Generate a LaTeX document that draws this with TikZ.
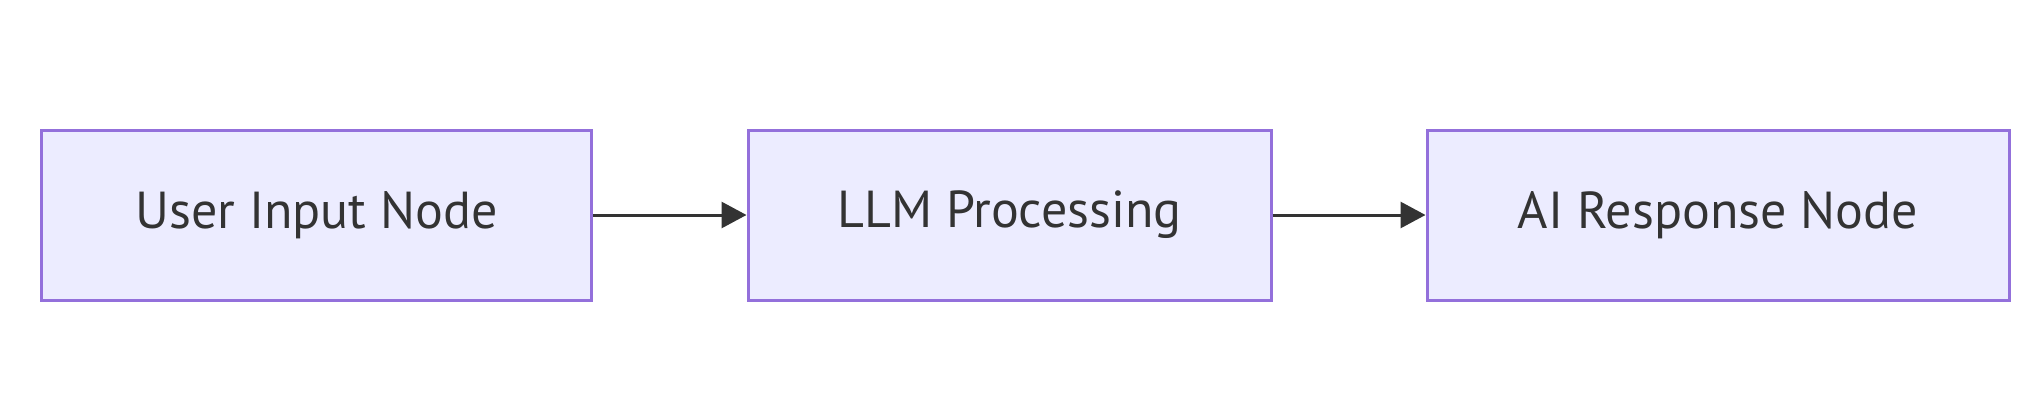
\documentclass[tikz,border=0pt]{standalone}
\usepackage{fontspec}
\setmainfont{PT Sans}
\usepackage{xcolor}
\usepackage{tikz}
\usetikzlibrary{arrows.meta}
\definecolor{boxfill}{HTML}{ECECFF}
\definecolor{boxline}{HTML}{9370DB}
\definecolor{ink}{HTML}{333333}

\begin{document}
\begin{tikzpicture}[
    box/.style={draw=boxline, fill=boxfill, line width=1.5pt, minimum height=85pt,
        text=ink, font=\fontsize{26pt}{31pt}\selectfont},
    flow/.style={-{Triangle[length=12.5pt,width=13pt]}, draw=ink, line width=1.5pt}
]
    \useasboundingbox (0,0) rectangle (1017pt,207pt);

    \node[box, minimum width=275pt] (user) at (158.25pt, 99.5pt) {User Input Node};
    \node[box, minimum width=261.5pt] (llm) at (504.75pt, 99.5pt) {LLM Processing};
    \node[box, minimum width=291pt] (resp) at (859pt, 99.5pt) {AI Response Node};

    \draw[flow] (user) to (llm);
    \draw[flow] (llm) to (resp);
\end{tikzpicture}
\end{document}
